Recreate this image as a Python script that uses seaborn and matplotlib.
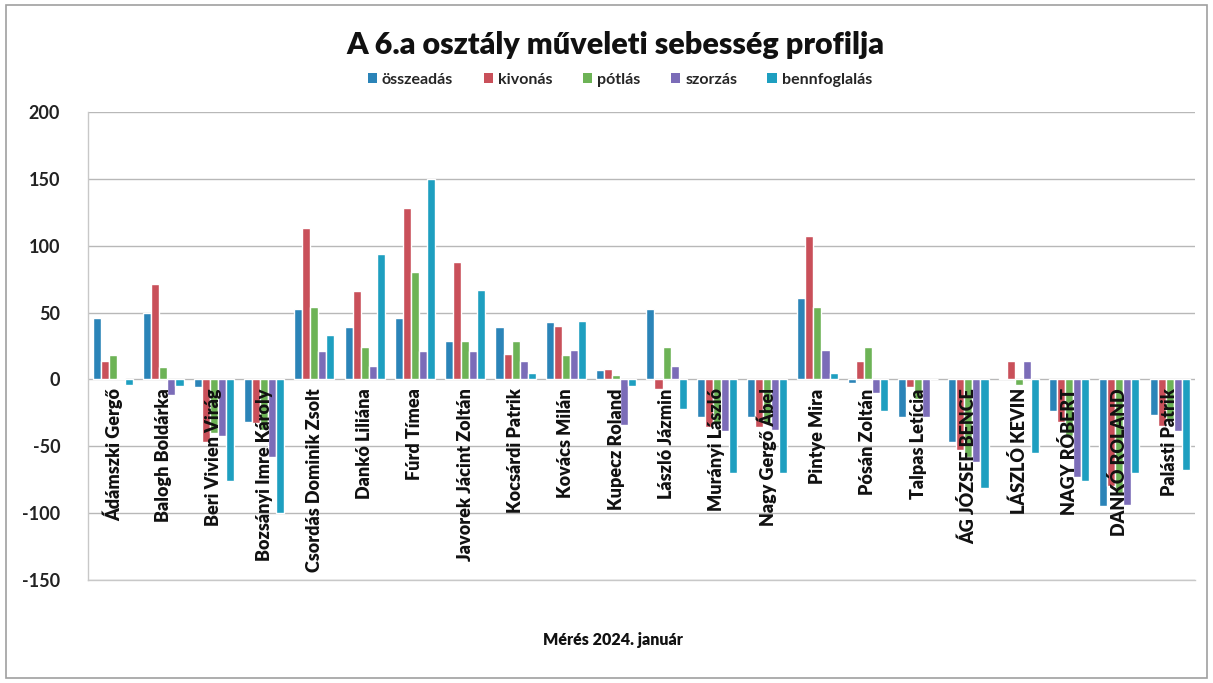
import matplotlib
matplotlib.use("Agg")
import matplotlib.pyplot as plt
import matplotlib.transforms as mtransforms
from matplotlib.patches import Rectangle, Patch
import seaborn as sns
import pandas as pd

# ---------------- data ----------------
names = ["Ádámszki Gergő", "Balogh Boldárka", "Beri Vivien Virág", "Bozsányi Imre Károly",
         "Csordás Dominik Zsolt", "Dankó Liliána", "Fúrd Tímea", "Javorek Jácint Zoltán",
         "Kocsárdi Patrik", "Kovács Milán", "Kupecz Roland", "László Jázmin",
         "Murányi László", "Nagy Gergő Ábel", "Pintye Mira", "Pósán Zoltán",
         "Talpas Letícia", "ÁG JÓZSEF BENCE", "LÁSZLÓ KEVIN", "NAGY RÓBERT",
         "DANKÓ ROLAND", "Palásti Patrik"]
operations = ["összeadás", "kivonás", "pótlás", "szorzás", "bennfoglalás"]

osszeadas = [46, 50, -6, -32, 53, 39, 46, 29, 39, 43, 7, 53, -28, -28, 61, -3, -28, -47, 1, -24, -95, -27]
kivonas = [14, 71, -47, -33, 113, 66, 128, 88, 19, 40, 8, -7, -36, -36, 107, 14, -6, -53, 14, -32, -80, -35]
potlas = [18, 9, -40, -38, 54, 24, 80, 29, 29, 18, 3, 24, -33, -33, 54, 24, -15, -58, -4, -42, -85, -30]
szorzas = [1, -12, -42, -58, 21, 10, 21, 21, 14, 22, -34, 10, -39, -38, 22, -10, -28, -62, 14, -73, -94, -39]
bennfoglalas = [-4, -5, -76, -100, 33, 94, 150, 67, 5, 44, -5, -22, -70, -70, 5, -24, 0, -81, -55, -76, -70, -68]

yticks = [-150, -100, -50, 0, 50, 100, 150, 200]
title = "A 6.a osztály műveleti sebesség profilja"
xtitle = "Mérés 2024. január"

# ---------------- build long table ----------------
series = [osszeadas, kivonas, potlas, szorzas, bennfoglalas]
rows = []
for op, vals in zip(operations, series):
    for n, v in zip(names, vals):
        rows.append({"név": n, "művelet": op, "érték": v})
df = pd.DataFrame(rows)

colors = ["#2b84b8", "#c9505a", "#6db356", "#7b6cb8", "#1e9fc0"]

sns.set_theme(style="white")
plt.rcParams["font.family"] = ["Lato", "DejaVu Sans"]

fig = plt.figure(figsize=(12.13, 6.83), dpi=100)
ax = fig.add_axes([0.0725, 0.151, 0.9125, 0.685])

sns.barplot(data=df, x="név", y="érték", hue="művelet", hue_order=operations,
            order=names, palette=colors, width=0.8, saturation=1, ax=ax,
            errorbar=None, legend=False)

ax.set_ylim(-150, 200)
ax.set_yticks(yticks)
ax.set_yticklabels([str(t) for t in yticks], fontsize=13, fontweight="bold", color="#222222")
ax.tick_params(axis="y", length=0, pad=20)
ax.set_xticks(range(len(names)))
ax.set_xticklabels([""] * len(names))
ax.tick_params(axis="x", length=0)
ax.set_xlabel("")
ax.set_ylabel("")
ax.set_xlim(-0.5, len(names) - 0.5)

ax.yaxis.grid(True, color="#b8b8b8", linewidth=1.0)
ax.set_axisbelow(True)
for side in ["top", "right"]:
    ax.spines[side].set_visible(False)
for side in ["left", "bottom"]:
    ax.spines[side].set_color("#c8c8c8")
    ax.spines[side].set_linewidth(1.0)

# category labels just below zero line
off = mtransforms.offset_copy(ax.transData, fig=fig, x=0, y=-9, units="dots")
for i, n in enumerate(names):
    ax.text(i, 0, n, rotation=90, ha="center", va="top", fontsize=13,
            fontweight="heavy", color="#111111", transform=off, zorder=5)

# title, legend, x-axis title
fig.text(0.507, 0.934, title, ha="center", va="center", fontsize=22,
         fontweight="heavy", color="#111111")
handles = [Patch(facecolor=c, edgecolor="none") for c in colors]
fig.legend(handles, operations, loc="center", bbox_to_anchor=(0.511, 0.883), ncol=5,
           frameon=False, handlelength=0.6, handleheight=0.6,
           handletextpad=0.3, columnspacing=1.9,
           prop={"size": 11.5, "weight": "bold"})
fig.text(0.505, 0.063, xtitle, ha="center", va="center", fontsize=11.5,
         fontweight="heavy", color="#111111")

# outer chart frame
fig.patches.append(Rectangle((0.005, 0.008), 0.99, 0.985, transform=fig.transFigure,
                             fill=False, edgecolor="#a0a0a0", linewidth=1.2))

fig.savefig("out.png", dpi=100, facecolor="white")
